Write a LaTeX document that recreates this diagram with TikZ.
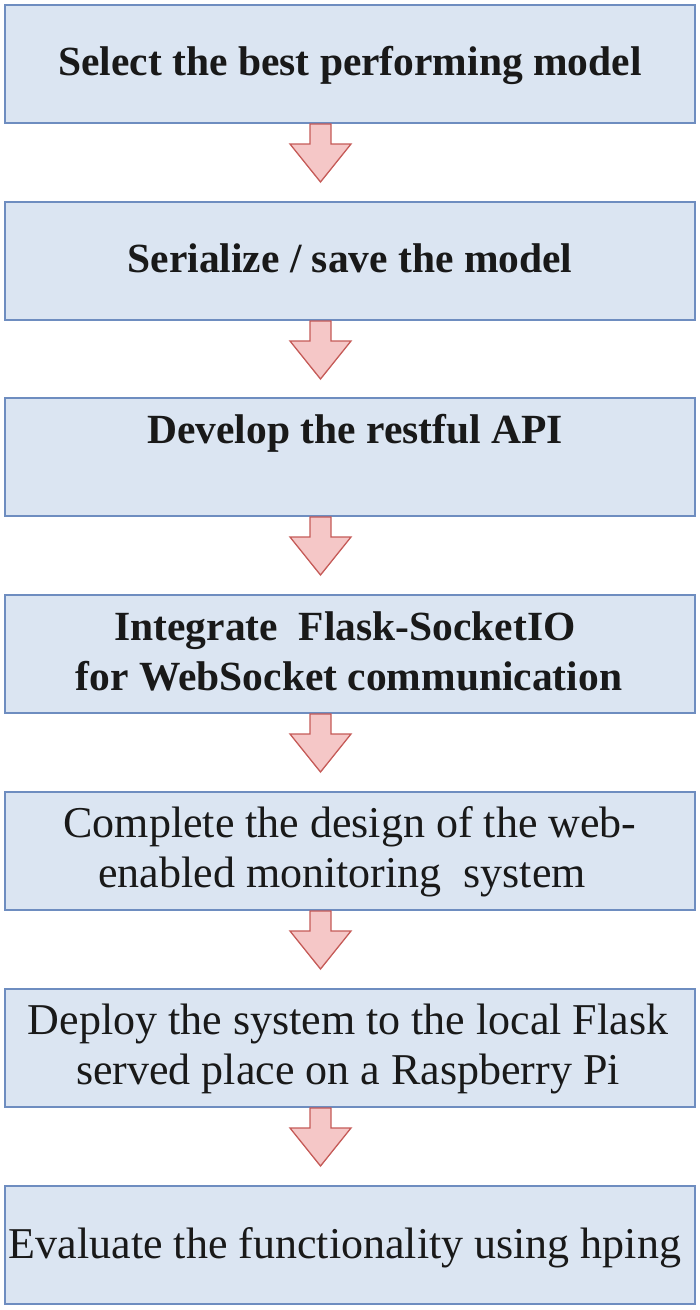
\documentclass[tikz,border=0pt]{standalone}
\usepackage{fontspec}
\setmainfont{Liberation Serif}
\usetikzlibrary{calc}
\definecolor{boxfill}{HTML}{DBE5F2}
\definecolor{boxline}{HTML}{6E8DC0}
\definecolor{arrfill}{HTML}{F5C7C7}
\definecolor{arrline}{HTML}{C55A57}
\tikzset{
  stepbox/.style={draw=boxline, fill=boxfill, line width=2pt, minimum width=690pt, minimum height=118pt, inner sep=0pt},
  boldtxt/.style={anchor=base, inner sep=0pt, font=\fontsize{41.5}{48}\selectfont\bfseries, text=black!90},
  regtxt/.style={anchor=base, inner sep=0pt, font=\fontsize{44}{50}\selectfont, text=black!90},
  downarr/.style={draw=arrline, fill=arrfill, line width=1.3pt, line join=miter}
}
\newcommand{\myflowarrow}[1]{%
  \draw[downarr] ($(#1.south)+(-40,0)$) -- ++(21,0) -- ++(0,20) -- ++(20,0)
    -- ++(-30.5,38) -- ++(-30.5,-38) -- ++(20,0) -- cycle;}
\begin{document}
\begin{tikzpicture}[x=1pt,y=-1pt]
\useasboundingbox (0,0) rectangle (700,1310);
% boxes
\node[stepbox] (b1) at (350,64) {};
\node[stepbox] (b2) at (350,261) {};
\node[stepbox] (b3) at (350,457) {};
\node[stepbox] (b4) at (350,654) {};
\node[stepbox] (b5) at (350,851) {};
\node[stepbox] (b6) at (350,1048) {};
\node[stepbox] (b7) at (350,1245) {};
% texts
\node[boldtxt] (t1) at (350,75) {Select the best performing model};
\node[boldtxt] (t2) at (350,272) {Serialize / save the model};
\node[boldtxt] (t3) at (355,443) {Develop the restful API};
\node[boldtxt] (t4a) at (345,640) {Integrate\ \ Flask-SocketIO};
\node[boldtxt] (t4b) at (349,690) {for WebSocket communication};
\node[regtxt] (t5a) at (350,837) {Complete the design of the web-};
\node[regtxt] (t5b) at (342,887) {enabled monitoring\ \ system};
\node[regtxt] (t6a) at (348,1034) {Deploy the system to the local Flask};
\node[regtxt] (t6b) at (348,1084) {served place on a Raspberry Pi};
\node[regtxt] (t7) at (345,1258) {Evaluate the functionality using hping};
% arrows
\myflowarrow{b1}
\myflowarrow{b2}
\myflowarrow{b3}
\myflowarrow{b4}
\myflowarrow{b5}
\myflowarrow{b6}
\end{tikzpicture}
\end{document}
